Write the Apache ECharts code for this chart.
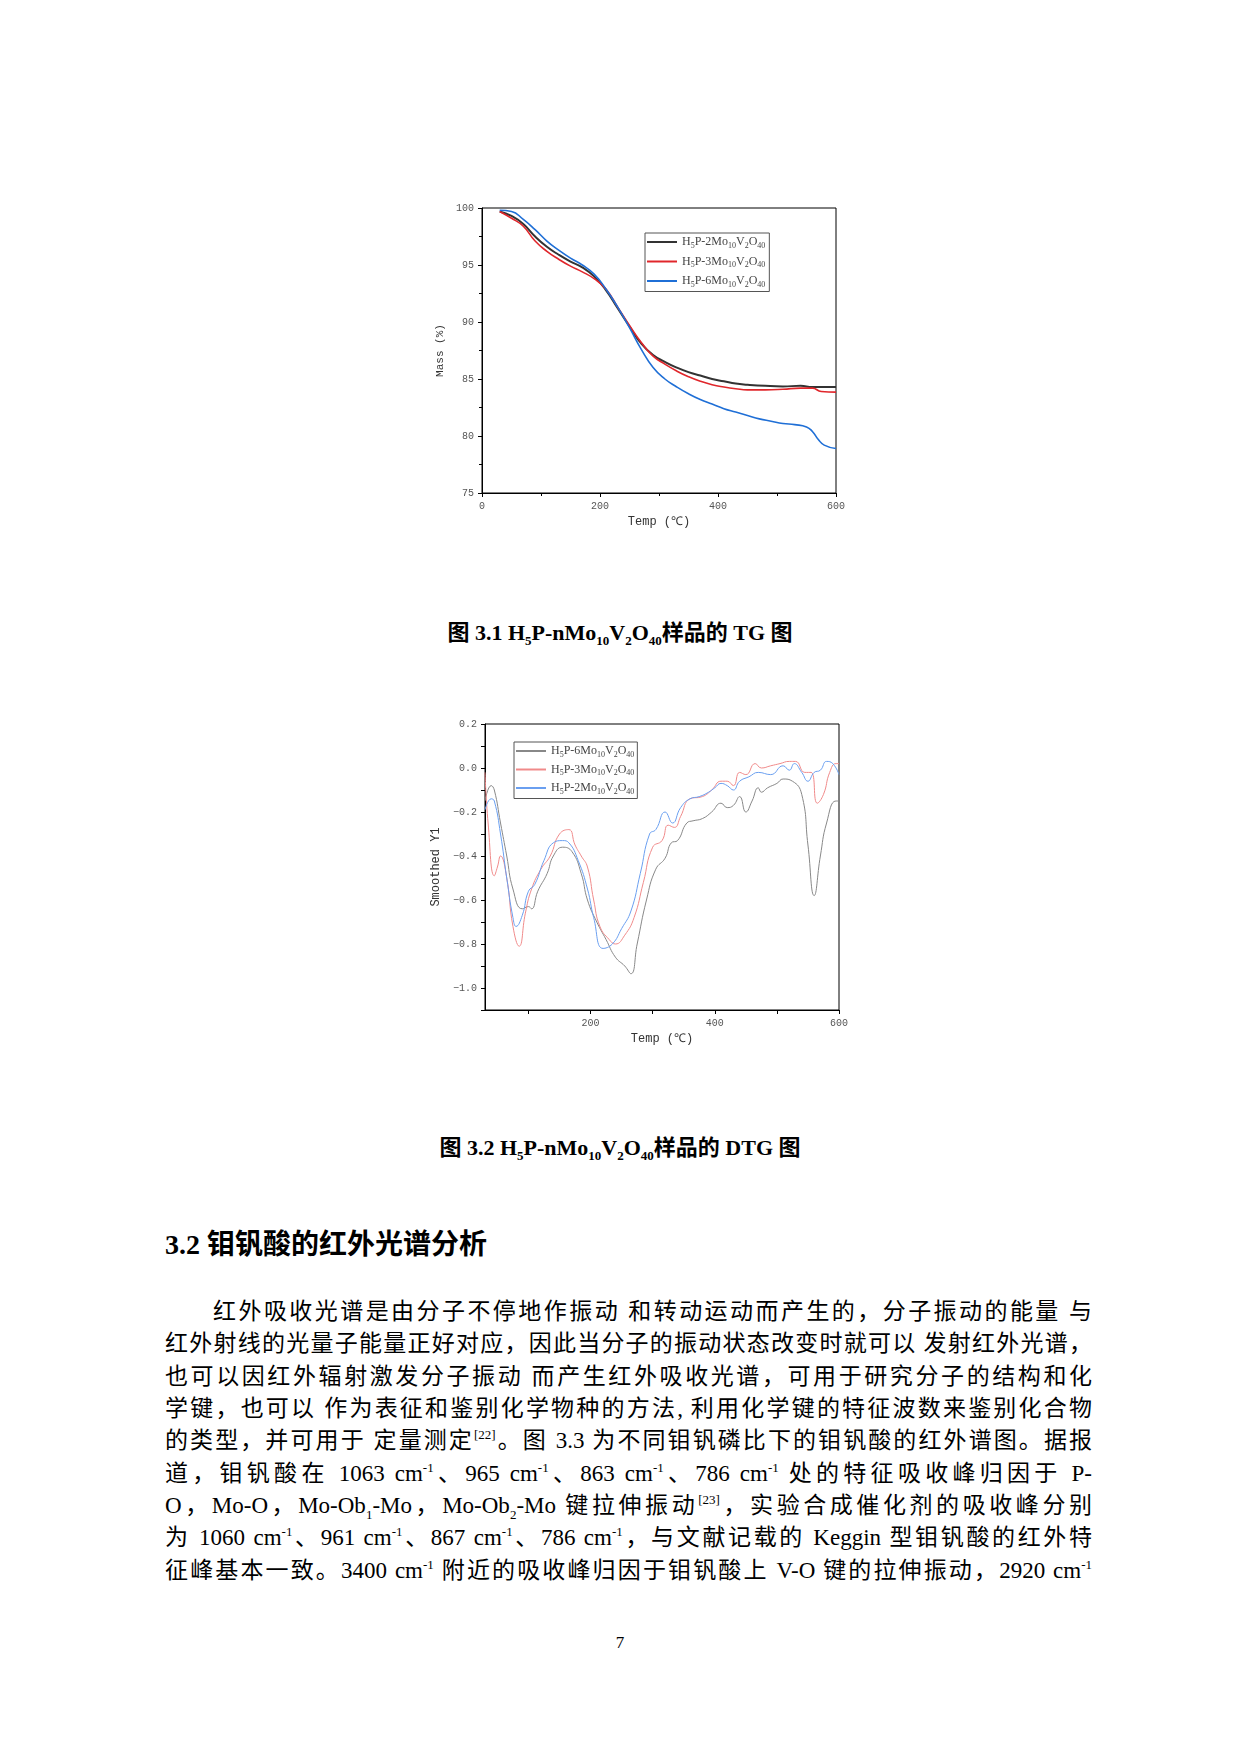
<!DOCTYPE html>
<html><head><meta charset="utf-8">
<script src="https://cdn.jsdelivr.net/npm/echarts@6/dist/echarts.min.js"></script>
<style>
body{margin:0;width:1240px;height:1754px;background:#fff;position:relative;font-family:"Liberation Serif","Noto Sans CJK SC",serif;color:#000}
.cap{position:absolute;left:0;width:1240px;text-align:center;font-weight:bold;font-size:22px}
.cap sub{font-size:13px}
#h{position:absolute;left:165px;top:1222px;font-size:28px;font-weight:bold}
.ln{position:absolute;left:165px;width:927px;font-size:23px;text-align:justify;text-align-last:justify;white-space:nowrap}
.ln sup{font-size:13px;line-height:0}
.ln sub{font-size:13px;line-height:0}
#pg{position:absolute;top:1633px;left:0;width:1240px;text-align:center;font-size:17px}
</style></head><body>
<div id="c1" style="position:absolute;left:400px;top:180px;width:480px;height:370px"></div>
<div id="c2" style="position:absolute;left:400px;top:696px;width:480px;height:370px"></div>
<div class="cap" style="top:614px">图 3.1 H<sub>5</sub>P-nMo<sub>10</sub>V<sub>2</sub>O<sub>40</sub>样品的 TG 图</div>
<div class="cap" style="top:1129px">图 3.2 H<sub>5</sub>P-nMo<sub>10</sub>V<sub>2</sub>O<sub>40</sub>样品的 DTG 图</div>
<div id="h">3.2 钼钒酸的红外光谱分析</div>
<div class="ln" style="top:1292px;left:213px;width:879px">红外吸收光谱是由分子不停地作振动 和转动运动而产生的，分子振动的能量 与</div>
<div class="ln" style="top:1324px">红外射线的光量子能量正好对应，因此当分子的振动状态改变时就可以 发射红外光谱，</div>
<div class="ln" style="top:1357px">也可以因红外辐射激发分子振动 而产生红外吸收光谱，可用于研究分子的结构和化</div>
<div class="ln" style="top:1389px">学键，也可以 作为表征和鉴别化学物种的方法, 利用化学键的特征波数来鉴别化合物</div>
<div class="ln" style="top:1421px">的类型，并可用于 定量测定<sup>[22]</sup>。图 3.3 为不同钼钒磷比下的钼钒酸的红外谱图。据报</div>
<div class="ln" style="top:1454px">道，钼钒酸在 1063 cm<sup>-1</sup>、965 cm<sup>-1</sup>、863 cm<sup>-1</sup>、786 cm<sup>-1</sup> 处的特征吸收峰归因于 P-</div>
<div class="ln" style="top:1486px">O，Mo-O，Mo-Ob<sub>1</sub>-Mo，Mo-Ob<sub>2</sub>-Mo 键拉伸振动<sup>[23]</sup>，实验合成催化剂的吸收峰分别</div>
<div class="ln" style="top:1518px">为 1060 cm<sup>-1</sup>、961 cm<sup>-1</sup>、867 cm<sup>-1</sup>、786 cm<sup>-1</sup>，与文献记载的 Keggin 型钼钒酸的红外特</div>
<div class="ln" style="top:1551px">征峰基本一致。3400 cm<sup>-1</sup> 附近的吸收峰归因于钼钒酸上 V-O 键的拉伸振动，2920 cm<sup>-1</sup></div>
<div id="pg">7</div>
<script>
// TG data [temp, mass%]
const tg2Mo = [[30,99.7],[50,99.3],[70,98.6],[90,97.5],[110,96.6],[130,95.9],[150,95.3],[170,94.8],[190,94.0],[210,92.8],[230,91.2],[250,89.6],[270,88.1],[290,87.1],[310,86.5],[330,86.0],[350,85.6],[370,85.3],[390,85.0],[410,84.8],[430,84.6],[450,84.5],[480,84.4],[510,84.35],[540,84.4],[560,84.3],[580,84.3],[600,84.3]];
const tg3Mo = [[30,99.7],[50,99.1],[70,98.4],[90,97.1],[110,96.2],[130,95.5],[150,94.9],[170,94.4],[190,93.8],[210,92.9],[230,91.3],[250,89.7],[270,88.2],[290,87.0],[310,86.3],[330,85.7],[350,85.2],[370,84.8],[390,84.5],[410,84.3],[430,84.15],[450,84.05],[480,84.05],[510,84.1],[540,84.2],[560,84.2],[575,83.9],[600,83.85]];
const tg6Mo = [[30,99.8],[50,99.7],[70,99.0],[90,98.1],[110,97.1],[130,96.3],[150,95.6],[170,95.0],[190,94.2],[210,92.9],[230,91.3],[250,89.5],[270,87.6],[290,86.0],[310,85.0],[330,84.3],[350,83.7],[370,83.2],[390,82.8],[410,82.4],[430,82.1],[450,81.8],[470,81.5],[490,81.3],[510,81.1],[530,81.0],[550,80.8],[560,80.4],[570,79.7],[580,79.2],[600,78.9]];
// DTG data
const dtg6Mo = [[30,-0.15],[40,-0.08],[45,-0.1],[55,-0.25],[65,-0.4],[75,-0.55],[90,-0.64],[100,-0.63],[105,-0.64],[115,-0.56],[130,-0.48],[140,-0.4],[155,-0.36],[170,-0.38],[185,-0.48],[195,-0.6],[210,-0.7],[225,-0.78],[240,-0.86],[255,-0.9],[265,-0.935],[275,-0.8],[290,-0.6],[305,-0.46],[320,-0.41],[330,-0.34],[340,-0.33],[355,-0.25],[365,-0.24],[380,-0.23],[395,-0.2],[410,-0.16],[420,-0.18],[430,-0.17],[440,-0.13],[450,-0.2],[460,-0.15],[470,-0.09],[475,-0.11],[485,-0.09],[500,-0.07],[510,-0.05],[525,-0.06],[540,-0.12],[550,-0.35],[560,-0.58],[570,-0.4],[580,-0.25],[595,-0.15],[600,-0.15]];
const dtg3Mo = [[30,-0.02],[35,-0.25],[45,-0.49],[50,-0.45],[55,-0.4],[65,-0.5],[75,-0.72],[85,-0.81],[95,-0.66],[105,-0.55],[120,-0.46],[135,-0.4],[150,-0.3],[165,-0.28],[175,-0.35],[185,-0.4],[195,-0.45],[205,-0.6],[215,-0.72],[230,-0.78],[240,-0.8],[255,-0.76],[270,-0.68],[285,-0.52],[300,-0.36],[315,-0.33],[325,-0.26],[335,-0.27],[345,-0.22],[360,-0.14],[380,-0.13],[395,-0.1],[410,-0.06],[420,-0.06],[430,-0.08],[440,-0.02],[450,-0.03],[465,0.02],[475,0.0],[490,0.01],[505,0.02],[520,0.03],[530,0.03],[545,-0.02],[555,-0.02],[565,-0.16],[575,-0.12],[585,-0.02],[595,0.02],[600,0.02]];
const dtg2Mo = [[30,-0.19],[40,-0.14],[45,-0.15],[55,-0.3],[65,-0.5],[75,-0.68],[80,-0.72],[90,-0.67],[100,-0.56],[110,-0.53],[125,-0.42],[140,-0.34],[155,-0.33],[165,-0.34],[180,-0.42],[195,-0.55],[205,-0.68],[220,-0.82],[235,-0.8],[250,-0.73],[265,-0.65],[280,-0.48],[295,-0.3],[305,-0.28],[320,-0.2],[332,-0.25],[345,-0.18],[360,-0.14],[375,-0.13],[390,-0.11],[400,-0.09],[410,-0.07],[420,-0.08],[430,-0.1],[440,-0.06],[455,-0.04],[470,-0.02],[490,-0.03],[510,0.01],[520,-0.01],[528,0.02],[540,-0.02],[550,-0.06],[560,-0.02],[570,-0.01],[580,0.03],[590,0.02],[600,-0.03]];
const names = ['H{s|5}P-2Mo{s|10}V{s|2}O{s|40}','H{s|5}P-3Mo{s|10}V{s|2}O{s|40}','H{s|5}P-6Mo{s|10}V{s|2}O{s|40}'];
const dtgTicksY = [-1.1,-1.0,-0.9,-0.8,-0.7,-0.6,-0.5,-0.4,-0.3,-0.2,-0.1,0.0,0.1,0.2];
const dtgLabelsY = [-1.0,-0.8,-0.6,-0.4,-0.2,0.0,0.2];
const dtgTicksX = [100,200,300,400,500,600];
const dtgLabelsX = [200,400,600];

const F = '"Liberation Mono","DejaVu Sans Mono",monospace';
const ax = {color:'#555',fontFamily:F,fontSize:10};
const line = {onZero:false,lineStyle:{color:'#000',width:1}};
const rich = {s:{fontSize:8,verticalAlign:'bottom',padding:[7,0,0,0],fontFamily:'Liberation Serif',color:'#444'}};

const c1 = echarts.init(document.getElementById('c1'));
c1.setOption({
  animation:false,
  grid:{left:82,top:28,width:354,height:285,show:true,borderColor:'#000',borderWidth:1},
  legend:{orient:'vertical',left:245,top:53,itemWidth:30,itemHeight:2,itemGap:6,icon:'rect',
    backgroundColor:'#fff',borderColor:'#555',borderWidth:1,padding:[3,4,3,2],
    textStyle:{fontFamily:'Liberation Serif',fontSize:12,color:'#444',rich:rich}},
  xAxis:{type:'value',min:0,max:600,interval:200,axisLine:line,axisTick:{length:4,lineStyle:{color:'#000'}},
    minorTick:{show:true,splitNumber:2,length:3,lineStyle:{color:'#000'}},splitLine:{show:false},
    axisLabel:ax,name:'Temp (℃)',nameLocation:'middle',nameGap:20,nameTextStyle:{fontFamily:F,fontSize:12,color:'#333'}},
  yAxis:{type:'value',min:75,max:100,interval:5,axisLine:line,axisTick:{length:4,lineStyle:{color:'#000'}},
    minorTick:{show:true,splitNumber:2,length:3,lineStyle:{color:'#000'}},splitLine:{show:false},
    axisLabel:ax,name:'Mass (%)',nameLocation:'middle',nameGap:32,nameTextStyle:{fontFamily:F,fontSize:11,color:'#333'}},
  series:[
    {name:names[0],type:'line',data:tg2Mo,showSymbol:false,smooth:true,lineStyle:{color:'#333',width:2},itemStyle:{color:'#333'}},
    {name:names[1],type:'line',data:tg3Mo,showSymbol:false,smooth:true,lineStyle:{color:'#e0262b',width:1.6},itemStyle:{color:'#e0262b'}},
    {name:names[2],type:'line',data:tg6Mo,showSymbol:false,smooth:true,lineStyle:{color:'#1f6fd6',width:1.6},itemStyle:{color:'#1f6fd6'}}
  ]
});

const c2 = echarts.init(document.getElementById('c2'));
c2.setOption({
  animation:false,
  grid:{left:85,top:28,width:354,height:286,show:true,borderColor:'#000',borderWidth:1},
  legend:{orient:'vertical',left:114,top:46,itemWidth:30,itemHeight:2,itemGap:5,icon:'rect',
    backgroundColor:'#fff',borderColor:'#555',borderWidth:1,padding:[3,3,3,2],
    data:[names[2],names[1],names[0]],
    textStyle:{fontFamily:'Liberation Serif',fontSize:12,color:'#444',rich:rich}},
  xAxis:{type:'value',min:30,max:600,axisLine:line,
    axisTick:{customValues:dtgTicksX,length:4,lineStyle:{color:'#000'}},splitLine:{show:false},
    axisLabel:Object.assign({customValues:dtgLabelsX},ax),
    name:'Temp (℃)',nameLocation:'middle',nameGap:20,nameTextStyle:{fontFamily:F,fontSize:12,color:'#333'}},
  yAxis:{type:'value',min:-1.1,max:0.2,axisLine:line,
    axisTick:{customValues:dtgTicksY,length:4,lineStyle:{color:'#000'}},splitLine:{show:false},
    axisLabel:Object.assign({customValues:dtgLabelsY,formatter:v=>(v<0?'−':'')+Math.abs(v).toFixed(1)},ax),
    name:'Smoothed Y1',nameLocation:'middle',nameGap:38,nameTextStyle:{fontFamily:F,fontSize:12,color:'#333'}},
  series:[
    {name:names[2],type:'line',data:dtg6Mo,showSymbol:false,smooth:true,lineStyle:{color:'#888',width:1},itemStyle:{color:'#888'}},
    {name:names[1],type:'line',data:dtg3Mo,showSymbol:false,smooth:true,lineStyle:{color:'#f08a8a',width:1},itemStyle:{color:'#f08a8a'}},
    {name:names[0],type:'line',data:dtg2Mo,showSymbol:false,smooth:true,lineStyle:{color:'#6a9ff0',width:1},itemStyle:{color:'#6a9ff0'}}
  ]
});
</script>
</body></html>
